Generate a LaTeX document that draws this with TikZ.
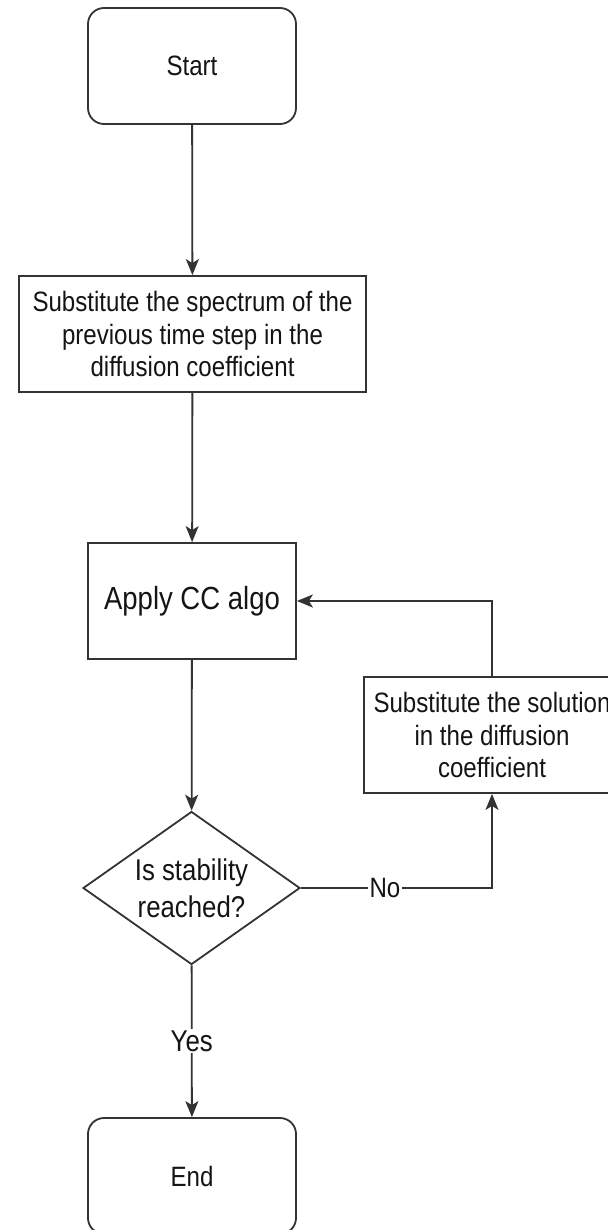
\documentclass[tikz,border=0pt]{standalone}
\usepackage{fontspec}
\setmainfont{Liberation Sans}[FakeStretch=0.86]
\usetikzlibrary{shapes.geometric,arrows.meta}

\begin{document}
\begin{tikzpicture}[x=0.5pt,y=-0.5pt,
		every node/.style={text=black!92,font=\fontsize{14}{16.25}\selectfont},
		term/.style={draw=black!80,line width=0.9pt,rounded corners=8pt,minimum width=104pt,minimum height=58pt},
		box/.style={draw=black!80,line width=0.9pt,align=center,inner sep=0pt,minimum height=58pt},
		decision/.style={draw=black!80,line width=0.9pt,diamond,aspect=1.42,inner sep=0pt,align=center,
			minimum width=108.5pt,minimum height=76.5pt,font=\fontsize{15}{18.5}\selectfont},
		flow/.style={draw=black!80,line width=0.9pt,-{Stealth[length=8pt,width=6.5pt,inset=2pt]}},
		lbl/.style={fill=white,inner sep=0.8pt}]
		\useasboundingbox (0,0) rectangle (607,1230);
		% Terminals
		\node [term] (start) at (192,66) {Start};
		\node [term] (end) at (192,1176) {End};
		% Steps
		\node [box,minimum width=173.5pt] (spec) at (192.5,334) {Substitute the spectrum of the\\previous time step in the\\diffusion coefficient};
		\node [box,minimum width=104pt,minimum height=58pt,font=\fontsize{16}{19}\selectfont] (cc) at (192,601) {Apply CC algo};
		\node [box,minimum width=128pt] (sol) at (492,735) {Substitute the solution\\in the diffusion\\coefficient};
		% Test
		\node [decision] (stab) at (191.5,888) {Is stability\\reached?};
		% Arrows
		\draw [flow] (start) -- (spec);
		\draw [flow] (spec) -- (cc);
		\draw [flow] (cc) -- (stab);
		\draw [flow] (stab) -- node [lbl,font=\fontsize{15}{18}\selectfont] {Yes} (end);
		\draw [flow] (stab) -| node [lbl,pos=0.22] {No} (sol);
		\draw [flow] (sol) |- (cc);
	\end{tikzpicture}
\end{document}
